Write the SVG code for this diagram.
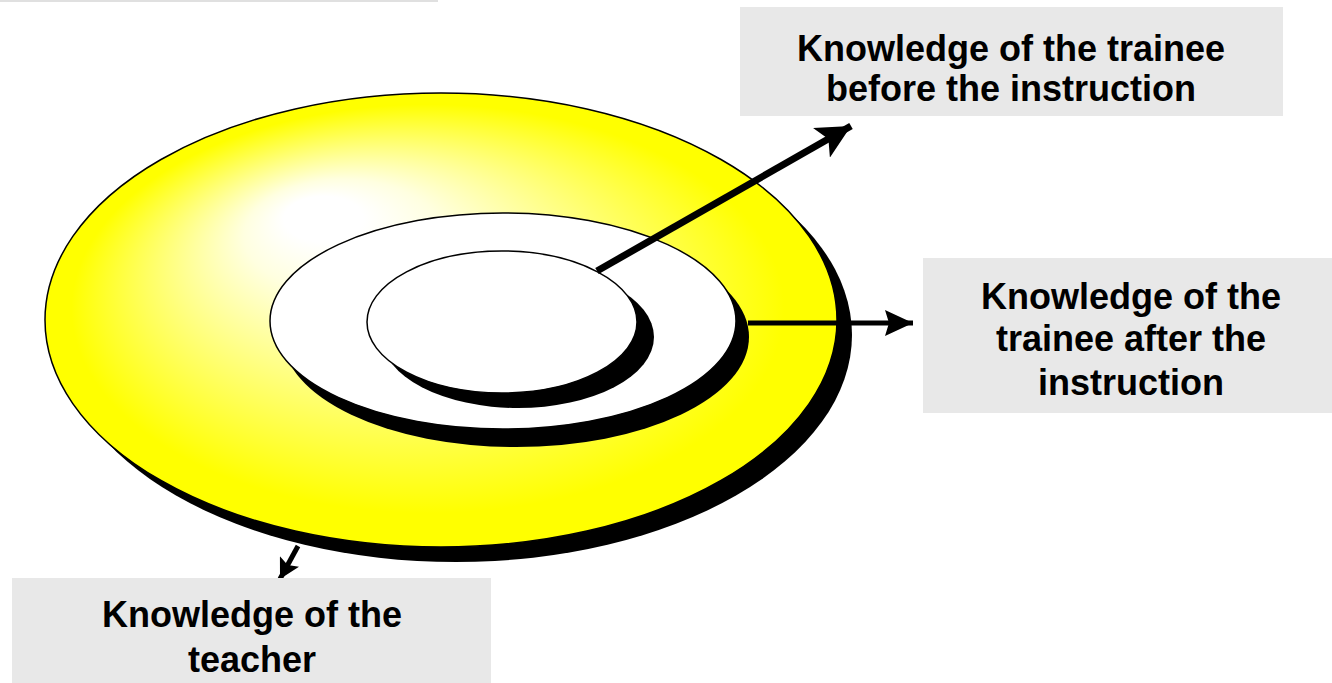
<svg xmlns="http://www.w3.org/2000/svg" width="1332" height="683" viewBox="0 0 1332 683">
<defs>
<radialGradient id="yel" cx="0.5" cy="0.5" r="0.5" fx="0.335" fy="0.253">
<stop offset="0" stop-color="#ffffff"/>
<stop offset="0.1" stop-color="#ffffff"/>
<stop offset="0.25" stop-color="#ffffe0"/>
<stop offset="0.9" stop-color="#ffff00"/>
<stop offset="1" stop-color="#ffff00"/>
</radialGradient>
<marker id="ahBig" markerUnits="userSpaceOnUse" markerWidth="36" markerHeight="34" refX="34" refY="17" orient="auto">
<polygon points="0,0 34,17 0,34 8,17" fill="#000"/>
</marker>
<marker id="ahMid" markerUnits="userSpaceOnUse" markerWidth="30" markerHeight="26" refX="28" refY="13" orient="auto">
<polygon points="0,0 28,13 0,26 4,13" fill="#000"/>
</marker>
<marker id="ahSmall" markerUnits="userSpaceOnUse" markerWidth="22" markerHeight="22" refX="20" refY="11" orient="auto">
<polygon points="0,0 20,11 0,22 4,11" fill="#000"/>
</marker>
</defs>
<style>
.shadow{fill:#000}
.rim{stroke:#000;stroke-width:1.5}
.box{fill:#e8e8e8}
.lbl{font-family:"Liberation Sans",Arial,sans-serif;font-weight:bold;font-size:36px;fill:#000;text-anchor:middle}
.conn{stroke:#000;fill:none}
</style>
<rect x="0" y="0" width="438" height="2" fill="#e0e0e0"/>
<g id="teacher-disc">
<ellipse class="shadow" cx="456" cy="335" rx="396" ry="227"/>
<ellipse class="rim" cx="441" cy="320" rx="396" ry="227" fill="url(#yel)"/>
</g>
<g id="after-disc">
<ellipse class="shadow" cx="516" cy="337" rx="233" ry="110"/>
<ellipse class="rim" cx="503" cy="321" rx="233" ry="108" fill="#fff"/>
</g>
<g id="before-disc">
<ellipse class="shadow" cx="518" cy="337" rx="136" ry="71"/>
<ellipse class="rim" cx="502" cy="322" rx="135" ry="71" fill="#fff"/>
</g>
<g id="connectors">
<line class="conn" x1="597" y1="271" x2="851" y2="126" stroke-width="7" marker-end="url(#ahBig)"/>
<line class="conn" x1="748" y1="323" x2="913" y2="323" stroke-width="5" marker-end="url(#ahMid)"/>
<line class="conn" x1="298" y1="546" x2="280" y2="579" stroke-width="5" marker-end="url(#ahSmall)"/>
</g>
<g id="label-before">
<rect class="box" x="740" y="7" width="543" height="109"/>
<text class="lbl" x="1011" y="61">Knowledge of the trainee</text>
<text class="lbl" x="1011" y="101">before the instruction</text>
</g>
<g id="label-after">
<rect class="box" x="923" y="258" width="409" height="155"/>
<text class="lbl" x="1131" y="309">Knowledge of the</text>
<text class="lbl" x="1131" y="351">trainee after the</text>
<text class="lbl" x="1131" y="395">instruction</text>
</g>
<g id="label-teacher">
<rect class="box" x="12" y="578" width="479" height="105"/>
<text class="lbl" x="252" y="627">Knowledge of the</text>
<text class="lbl" x="252" y="672">teacher</text>
</g>
</svg>
